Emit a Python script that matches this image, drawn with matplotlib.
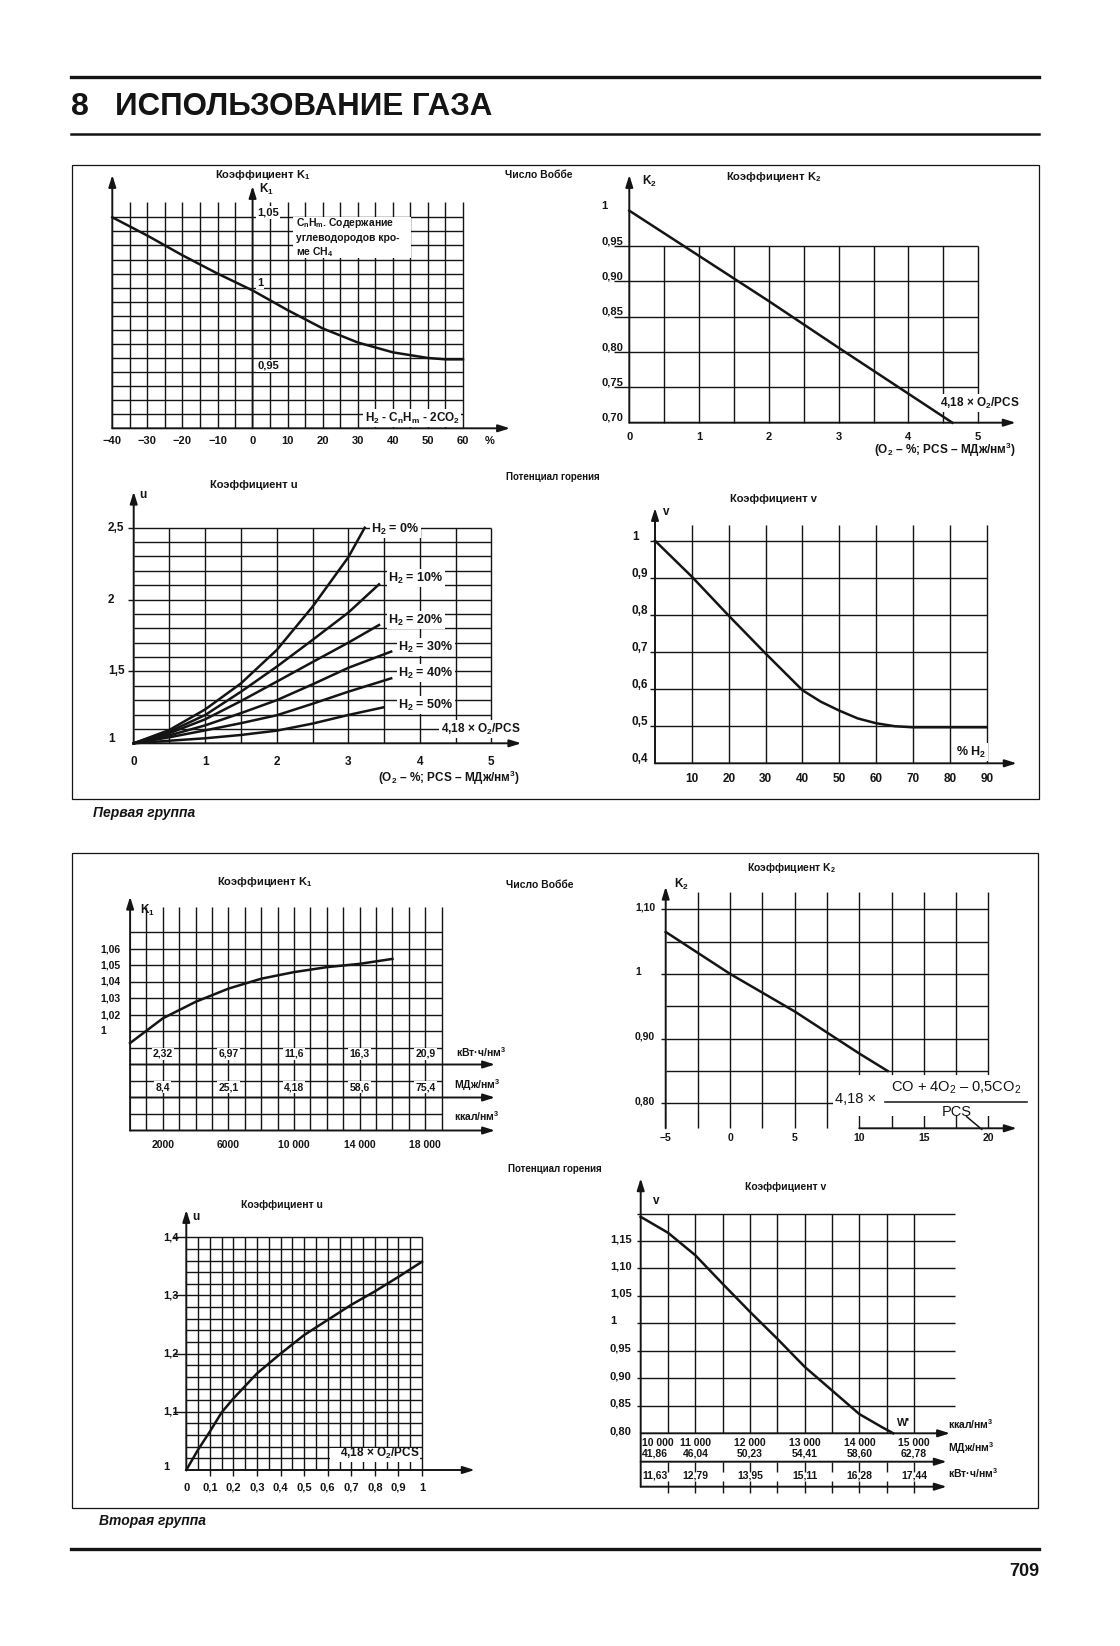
import numpy as np
import matplotlib
matplotlib.use('Agg')
import matplotlib.pyplot as plt
from matplotlib.patches import Rectangle
from matplotlib.transforms import blended_transform_factory, offset_copy

plt.rcParams['font.family'] = ['Liberation Sans', 'DejaVu Sans']
# sub/superscripts through mathtext, set in the same face as the labels
plt.rcParams['mathtext.fontset'] = 'custom'
plt.rcParams['mathtext.rm'] = 'Liberation Sans'
plt.rcParams['mathtext.bf'] = 'Liberation Sans:bold'
plt.rcParams['mathtext.it'] = 'Liberation Sans:italic'
plt.rcParams['mathtext.default'] = 'bf'

# ---------------- values ----------------
# first group: K1 against H2 - CnHm - 2CO2 (%)
k1a_x = [-40, -30, -20, -10, 0, 10, 20, 30, 40, 50, 55, 60]
k1a_y = [1.050, 1.037, 1.023, 1.010, 0.998, 0.984, 0.971, 0.961, 0.954, 0.950, 0.949, 0.949]
k1a_xticks = [-40, -30, -20, -10, 0, 10, 20, 30, 40, 50, 60]
k1a_xlabels = ['−40', '−30', '−20', '−10', '0', '10', '20', '30', '40', '50', '60']
k1a_yticks = [1.05, 1.0, 0.95]
k1a_ylabels = ['1,05', '1', '0,95']

# first group: K2 against 4,18 x O2/PCS
k2a_x = [0, 1, 2, 3, 4, 4.63]
k2a_y = [1.0, 0.936, 0.872, 0.806, 0.741, 0.70]
k2a_xticks = [0, 1, 2, 3, 4, 5]
k2a_yticks = [1.0, 0.95, 0.90, 0.85, 0.80, 0.75, 0.70]
k2a_ylabels = ['1', '0,95', '0,90', '0,85', '0,80', '0,75', '0,70']

# first group: u against 4,18 x O2/PCS, one curve per H2 content
u_h2 = ['H$_2$ = 0%', 'H$_2$ = 10%', 'H$_2$ = 20%', 'H$_2$ = 30%', 'H$_2$ = 40%', 'H$_2$ = 50%']
u_x = [[0, 0.5, 1, 1.5, 2, 2.5, 3, 3.23],
       [0, 0.5, 1, 1.5, 2, 2.5, 3, 3.43],
       [0, 0.5, 1, 1.5, 2, 2.5, 3, 3.43],
       [0, 0.5, 1, 1.5, 2, 2.5, 3, 3.6],
       [0, 0.5, 1, 1.5, 2, 2.5, 3, 3.6],
       [0, 0.5, 1, 1.5, 2, 2.5, 3, 3.49]]
u_y = [[1.0, 1.093, 1.236, 1.417, 1.649, 1.95, 2.294, 2.5],
       [1.0, 1.081, 1.197, 1.359, 1.533, 1.719, 1.909, 2.106],
       [1.0, 1.070, 1.167, 1.294, 1.429, 1.565, 1.700, 1.823],
       [1.0, 1.055, 1.125, 1.210, 1.300, 1.410, 1.525, 1.638],
       [1.0, 1.042, 1.090, 1.140, 1.195, 1.275, 1.359, 1.452],
       [1.0, 1.018, 1.035, 1.058, 1.088, 1.137, 1.197, 1.250]]
ua_xticks = [0, 1, 2, 3, 4, 5]
ua_yticks = [2.5, 2.0, 1.5, 1.0]
ua_ylabels = ['2,5', '2', '1,5', '1']

# first group: v against % H2
va_x = [0, 10, 20, 30, 40, 45, 50, 55, 60, 65, 70, 80, 90]
va_y = [1.0, 0.903, 0.798, 0.696, 0.597, 0.566, 0.542, 0.521, 0.508, 0.500, 0.497, 0.497, 0.497]
va_xticks = [10, 20, 30, 40, 50, 60, 70, 80, 90]
va_yticks = [1.0, 0.9, 0.8, 0.7, 0.6, 0.5, 0.4]
va_ylabels = ['1', '0,9', '0,8', '0,7', '0,6', '0,5', '0,4']

# second group: K1 against heating value (kcal/nm3)
k1b_x = [0, 2000, 4000, 6000, 8000, 10000, 12000, 14000, 16000]
k1b_y = [1.003, 1.018, 1.028, 1.036, 1.042, 1.046, 1.049, 1.051, 1.054]
k1b_ylabpos = [1.06, 1.05, 1.04, 1.03, 1.02, 1.01]
k1b_ylabels = ['1,06', '1,05', '1,04', '1,03', '1,02', '1']
k1b_xticks = [2000, 6000, 10000, 14000, 18000]
k1b_kcal = ['2000', '6000', '10 000', '14 000', '18 000']
k1b_kwh = ['2,32', '6,97', '11,6', '16,3', '20,9']
k1b_mj = ['8,4', '25,1', '4,18', '58,6', '75,4']

# second group: K2 against 4,18 x (CO + 4O2 - 0,5CO2)/PCS
k2b_x = [-5, 0, 5, 10, 12.2]
k2b_y = [1.065, 1.0, 0.942, 0.877, 0.85]
k2b_xticks = [-5, 0, 5, 10, 15, 20]
k2b_xlabels = ['−5', '0', '5', '10', '15', '20']
k2b_yticks = [1.10, 1.0, 0.90, 0.80]
k2b_ylabels = ['1,10', '1', '0,90', '0,80']

# second group: u against 4,18 x O2/PCS
ub_x = [0, 0.05, 0.1, 0.15, 0.2, 0.3, 0.4, 0.5, 0.6, 0.7, 0.8, 0.9, 1.0]
ub_y = [1.0, 1.035, 1.066, 1.099, 1.123, 1.166, 1.2, 1.232, 1.258, 1.284, 1.307, 1.332, 1.358]
ub_xticks = [0, 0.1, 0.2, 0.3, 0.4, 0.5, 0.6, 0.7, 0.8, 0.9, 1.0]
ub_xlabels = ['0', '0,1', '0,2', '0,3', '0,4', '0,5', '0,6', '0,7', '0,8', '0,9', '1']
ub_yticks = [1.4, 1.3, 1.2, 1.1, 1.0]
ub_ylabels = ['1,4', '1,3', '1,2', '1,1', '1']

# second group: v against heating value
vb_x = [10000, 10500, 11000, 11500, 12000, 12500, 13000, 13500, 14000, 14400, 14620]
vb_y = [1.194, 1.165, 1.124, 1.072, 1.021, 0.972, 0.921, 0.878, 0.835, 0.812, 0.800]
vb_xticks = [10000, 11000, 12000, 13000, 14000, 15000]
vb_kcal = ['10 000', '11 000', '12 000', '13 000', '14 000', '15 000']
vb_mj = ['41,86', '46,04', '50,23', '54,41', '58,60', '62,78']
vb_kwh = ['11,63', '12,79', '13,95', '15,11', '16,28', '17,44']
vb_yticks = [1.15, 1.10, 1.05, 1.0, 0.95, 0.90, 0.85, 0.80]
vb_ylabels = ['1,15', '1,10', '1,05', '1', '0,95', '0,90', '0,85', '0,80']

# ---------------- page set-up ----------------
W, H = 1120, 1646
INK = '#141414'
GL = 1.0   # grid lines
AXW = 1.4  # axis lines
CL = 1.8   # curves

fig = plt.figure(figsize=(W / 100, H / 100), dpi=100)
fig.patch.set_facecolor('white')
page = fig.add_axes([0, 0, 1, 1], label='page', zorder=10)
page.set_xlim(0, W)
page.set_ylim(H, 0)
page.axis('off')

count = [0]


def panel(xa, xb, pxa, pxb, ya, yb, pya, pyb):
    # transparent full-page axes whose data -> pixel mapping is fixed by two points per axis
    count[0] += 1
    sx = (pxb - pxa) / (xb - xa)
    sy = (pyb - pya) / (yb - ya)
    ax = fig.add_axes([0, 0, 1, 1], label='chart%d' % count[0])
    ax.set_xlim(xa - pxa / sx, xa + (W - pxa) / sx)
    ax.set_ylim(ya + (H - pya) / sy, ya - pya / sy)
    ax.axis('off')
    return ax


def data_at(ax, px, py):
    return ax.transData.inverted().transform(page.transData.transform((px, py)))


def xdata_ypix(ax):
    return blended_transform_factory(ax.transData, page.transData)


def xpix_ydata(ax):
    return blended_transform_factory(page.transData, ax.transData)


def put(ax, x, y, s, tr=None, size=8, ha='left', va='center', weight='bold', bg=False, dy=0, **kw):
    t = ax.transData if tr is None else tr
    if dy:
        t = offset_copy(t, fig=fig, x=0, y=dy, units='dots')
    box = dict(boxstyle='square,pad=0.12', fc='white', ec='none') if bg else None
    ax.text(x, y, s, transform=t, fontsize=size, ha=ha, va=va, fontweight=weight,
            color=INK, bbox=box, zorder=5, **kw)


AP = dict(arrowstyle='-|>,head_length=0.7,head_width=0.22', color=INK, lw=AXW,
          shrinkA=0, shrinkB=0, mutation_scale=10)


def arrow(ax, start, end, c0=None, c1=None):
    ax.annotate('', xy=end, xycoords=c1 or ax.transData, xytext=start,
                textcoords=c0 or ax.transData, arrowprops=AP, annotation_clip=False)


def white(x, y, w, h):
    page.add_patch(Rectangle((x, y), w, h, fc='white', ec='none', zorder=3))


# ---------------- 1: K1, first group ----------------
ax = panel(-40, 60, 112.3, 463, 1.05, 0.90, 217.3, 428.3)
top = data_at(ax, 0, 201.7)[1]
ax.vlines([v for v in np.arange(-35, 61, 5) if v != 0], 0.90, top, colors=INK, lw=GL)
ax.hlines(np.arange(0.91, 1.0505, 0.01), -40, 60, colors=INK, lw=GL)
arrow(ax, (-40, 0.90), (-40, 175), c1=xdata_ypix(ax))
arrow(ax, (0, 0.90), (0, 186), c1=xdata_ypix(ax))
arrow(ax, (-40, 0.90), (510, 0.90), c1=xpix_ydata(ax))
ax.plot(k1a_x, k1a_y, color=INK, lw=CL, zorder=3)
for v, s in zip(k1a_xticks, k1a_xlabels):
    put(ax, v, 441, s, tr=xdata_ypix(ax), ha='center')
for v, s, d in zip(k1a_yticks, k1a_ylabels, [5, 5, -8]):
    put(ax, 257, v, s, tr=xpix_ydata(ax), dy=d, bg=True)
put(page, 215, 175, 'Коэффициент K$_1$')
put(page, 259, 189, 'K$_1$', size=8.5)
put(page, 485, 441, '%')
white(293, 217, 118, 41)
put(page, 296, 223, 'C$_n$H$_m$. Содержание', size=7.5)
put(page, 296, 238, 'углеводородов кро-', size=7.5)
put(page, 296, 252, 'ме CH$_4$', size=7.5)
put(page, 460, 418, 'H$_2$ - C$_n$H$_m$ - 2CO$_2$', size=8.5, ha='right', bg=True)

# ---------------- 2: K2, first group ----------------
ax = panel(0, 5, 629.3, 978.2, 0.95, 0.70, 246, 422.7)
ax.vlines(np.arange(0.5, 5.01, 0.5), 0.70, 0.95, colors=INK, lw=GL)
ax.hlines(np.arange(0.75, 0.951, 0.05), data_at(ax, 614, 0)[0], 5, colors=INK, lw=GL)
arrow(ax, (0, 0.70), (0, 175), c1=xdata_ypix(ax))
arrow(ax, (0, 0.70), (1015.7, 0.70), c1=xpix_ydata(ax))
ax.plot(k2a_x, k2a_y, color=INK, lw=CL, zorder=3)
for v in k2a_xticks:
    put(ax, v, 437, str(v), tr=xdata_ypix(ax), ha='center')
for v, s in zip(k2a_yticks, k2a_ylabels):
    put(ax, 601, v, s, tr=xpix_ydata(ax), dy=5)
put(page, 505, 175, 'Число Воббе', size=7.5)
put(page, 642, 181, 'K$_2$', size=8.5)
put(page, 726, 177, 'Коэффициент K$_2$')
put(page, 1019, 403, '4,18 × O$_2$/PCS', size=8.5, ha='right', bg=True)
put(page, 1016, 450, '(O$_2$ – %; PCS – МДж/нм$^3$)', size=8.5, ha='right')

# ---------------- 3: u, first group ----------------
ax = panel(0, 5, 133.7, 491.3, 1.0, 2.5, 743.3, 527.7)
ax.vlines(np.arange(0.5, 5.01, 0.5), 1.0, 2.5, colors=INK, lw=GL)
ax.hlines(np.arange(1.1, 2.501, 0.1), 0, 5, colors=INK, lw=GL)
ax.hlines([1.5, 2.0, 2.5], data_at(ax, 128, 0)[0], 0, colors=INK, lw=GL)
arrow(ax, (0, 1.0), (0, 491.7), c1=xdata_ypix(ax))
arrow(ax, (0, 1.0), (521.3, 1.0), c1=xpix_ydata(ax))
for xs, ys in zip(u_x, u_y):
    ax.plot(xs, ys, color=INK, lw=CL, zorder=3)
for v in ua_xticks:
    put(ax, v, 762, str(v), tr=xdata_ypix(ax), ha='center', size=8.5)
for v, s in zip(ua_yticks, ua_ylabels):
    put(ax, 108, v, s, tr=xpix_ydata(ax), size=8.5, dy=4 if v == 1.0 else 0)
put(page, 210, 485, 'Коэффициент u')
put(page, 139, 495, 'u', size=8.5)
put(page, 506, 477, 'Потенциал горения', size=7)
for s, (lx, ly) in zip(u_h2, [(371, 529), (388, 578), (388, 620), (398, 647), (398, 673), (398, 705)]):
    put(page, lx, ly, s, size=9, bg=True)
put(page, 520, 729, '4,18 × O$_2$/PCS', size=8.5, ha='right', bg=True)
put(page, 520, 778, '(O$_2$ – %; PCS – МДж/нм$^3$)', size=8.5, ha='right')

# ---------------- 4: v, first group ----------------
ax = panel(0, 90, 655, 986.7, 1.0, 0.4, 540.7, 763.3)
top = data_at(ax, 0, 525)[1]
ax.vlines(va_xticks, 0.4, top, colors=INK, lw=GL)
ax.hlines(np.arange(0.5, 1.01, 0.1), data_at(ax, 650, 0)[0], 90, colors=INK, lw=GL)
arrow(ax, (0, 0.4), (0, 508), c1=xdata_ypix(ax))
arrow(ax, (0, 0.4), (1016.7, 0.4), c1=xpix_ydata(ax))
ax.plot(va_x, va_y, color=INK, lw=CL, zorder=3)
for v in va_xticks:
    put(ax, v, 779, str(v), tr=xdata_ypix(ax), ha='center', size=8.5)
for v, s in zip(va_yticks, va_ylabels):
    put(ax, 632, v, s, tr=xpix_ydata(ax), size=8.5, dy=4)
put(page, 730, 499, 'Коэффициент v')
put(page, 663, 512, 'v', size=8.5)
put(page, 986, 752, '% H$_2$', size=9, ha='right', bg=True)

# ---------------- 5: K1, second group ----------------
ax = panel(0, 19000, 130.1, 441.6, 1.06, 1.00, 949, 1048)
top = data_at(ax, 0, 906.7)[1]
ax.vlines(np.arange(1000, 19001, 1000), 0.95, top, colors=INK, lw=GL)
ax.hlines([0.96, 0.98] + list(np.arange(1.0, 1.0705, 0.01)), 0, 19000, colors=INK, lw=GL)
for lvl in [0.99, 0.97, 0.95]:
    arrow(ax, (0, lvl), (495, lvl), c1=xpix_ydata(ax))
arrow(ax, (0, 0.95), (0, 896.7), c1=xdata_ypix(ax))
ax.plot(k1b_x, k1b_y, color=INK, lw=CL, zorder=3)
for v, s in zip(k1b_ylabpos, k1b_ylabels):
    put(ax, 100, v, s, tr=xpix_ydata(ax), size=7.5)
for v, a, b, c in zip(k1b_xticks, k1b_kwh, k1b_mj, k1b_kcal):
    put(ax, v, 1054, a, tr=xdata_ypix(ax), ha='center', size=7.5, bg=True)
    put(ax, v, 1087, b, tr=xdata_ypix(ax), ha='center', size=7.5, bg=True)
    put(ax, v, 1145, c, tr=xdata_ypix(ax), ha='center', size=7.5)
put(page, 456, 1052, 'кВт·ч/нм$^3$', size=7.5)
put(page, 454, 1085, 'МДж/нм$^3$', size=7.5)
put(page, 454, 1116, 'ккал/нм$^3$', size=7.5)
put(page, 217, 882, 'Коэффициент K$_1$')
put(page, 140, 910, 'K$_1$', size=8.5)
put(page, 506, 885, 'Число Воббе', size=7.5)

# ---------------- 6: K2, second group ----------------
ax = panel(-5, 20, 665.7, 988.3, 1.10, 0.80, 909.3, 1103.3)
ybot = data_at(ax, 0, 1128.3)[1]
top = data_at(ax, 0, 891.7)[1]
ax.vlines(np.arange(-2.5, 20.01, 2.5), ybot, top, colors=INK, lw=GL)
ax.hlines([0.85, 0.90, 0.95, 1.0, 1.05, 1.10], -5, 20, colors=INK, lw=GL)
ax.hlines(k2b_yticks, data_at(ax, 661, 0)[0], -5, colors=INK, lw=GL)
ax.hlines(0.80, -5, data_at(ax, 833, 0)[0], colors=INK, lw=GL)
arrow(ax, (10, ybot), (1016.7, ybot), c1=xpix_ydata(ax))
arrow(ax, (-5, ybot), (-5, 886.7), c1=xdata_ypix(ax))
ax.plot(k2b_x, k2b_y, color=INK, lw=CL, zorder=3)
for v, s in zip(k2b_xticks, k2b_xlabels):
    put(ax, v, 1138, s, tr=xdata_ypix(ax), ha='center', size=7.5)
for v, s in zip(k2b_yticks, k2b_ylabels):
    put(ax, 635, v, s, tr=xpix_ydata(ax), size=7.5, dy=2)
white(833, 1075, 197, 41)
put(page, 835, 1099, '4,18 ×', size=10.5, weight='normal')
put(page, 956, 1088, r'CO + 4O$_\mathrm{2}$ – 0,5CO$_\mathrm{2}$', size=10.5, weight='normal', ha='center')
page.plot([885, 1027], [1101.7, 1101.7], color=INK, lw=1.1, zorder=4)
put(page, 957, 1112, 'PCS', size=10.5, weight='normal', ha='center')
page.plot([966.7, 981.7], [1116.7, 1129.3], color=INK, lw=1.1, zorder=4)
put(page, 747, 868, 'Коэффициент K$_2$', size=7.5)
put(page, 674, 884, 'K$_2$', size=8.5)

# ---------------- 7: u, second group ----------------
ax = panel(0, 1, 186.3, 422, 1.0, 1.4, 1470, 1237.3)
ax.vlines(np.arange(0.05, 1.001, 0.05), 1.0, 1.4, colors=INK, lw=GL)
ax.vlines(np.arange(0.1, 1.001, 0.1), data_at(ax, 0, 1476)[1], 1.0, colors=INK, lw=GL)
ax.hlines(np.arange(1.02, 1.401, 0.02), 0, 1, colors=INK, lw=GL)
ax.hlines([1.1, 1.2, 1.3, 1.4], data_at(ax, 173, 0)[0], 0, colors=INK, lw=GL)
arrow(ax, (0, 1.0), (0, 1210), c1=xdata_ypix(ax))
arrow(ax, (0, 1.0), (474.7, 1.0), c1=xpix_ydata(ax))
ax.plot(ub_x, ub_y, color=INK, lw=CL, zorder=3)
for v, s in zip(ub_xticks, ub_xlabels):
    put(ax, v, 1488, s, tr=xdata_ypix(ax), ha='center', size=8)
for v, s in zip(ub_yticks, ub_ylabels):
    put(ax, 163, v, s, tr=xpix_ydata(ax), size=8, dy=3 if v == 1.0 else 0)
white(329.7, 1447.5, 90, 14.5)
put(page, 339.7, 1453.5, '4,18 × O$_2$/PCS', size=8.5)
put(page, 241, 1205, 'Коэффициент u', size=7.5)
put(page, 192, 1217, 'u', size=8.5)
put(page, 508, 1169, 'Потенциал горения', size=7)

# ---------------- 8: v, second group ----------------
ax = panel(10000, 15000, 640.7, 914, 1.15, 0.80, 1241, 1433.3)
ax.vlines(np.arange(10500, 15001, 500), 0.80, 1.20, colors=INK, lw=GL)
ax.hlines(np.arange(0.85, 1.2001, 0.05), data_at(ax, 636.7, 0)[0], data_at(ax, 955, 0)[0], colors=INK, lw=GL)
arrow(ax, (10000, data_at(ax, 0, 1486.7)[1]), (10000, 1178.3), c1=xdata_ypix(ax))
arrow(ax, (10000, 0.80), (950, 0.80), c1=xpix_ydata(ax))
for lvl in [1461.7, 1486.7]:
    arrow(ax, (10000, lvl), (946.7, lvl), c0=xdata_ypix(ax), c1=page.transData)
ax.vlines(np.arange(10500, 15001, 500), 1461.7, 1471.7, colors=INK, lw=GL, transform=xdata_ypix(ax))
ax.vlines(np.arange(10500, 15001, 500), 1481, 1493, colors=INK, lw=GL, transform=xdata_ypix(ax))
ax.plot(vb_x, vb_y, color=INK, lw=CL, zorder=3)
for i, (v, a, b, c) in enumerate(zip(vb_xticks, vb_kcal, vb_mj, vb_kwh)):
    ha = 'left' if i == 0 else 'center'
    xx = 10030 if i == 0 else v
    put(ax, xx, 1442.5, a, tr=xdata_ypix(ax), ha=ha, size=7.5)
    put(ax, xx, 1453.5, b, tr=xdata_ypix(ax), ha=ha, size=7.5)
    put(ax, xx, 1476, c, tr=xdata_ypix(ax), ha=ha, size=7.5)
for v, s in zip(vb_yticks, vb_ylabels):
    put(ax, 610, v, s, tr=xpix_ydata(ax), size=8, dy=2)
put(page, 948, 1424, 'ккал/нм$^3$', size=7.5)
put(page, 948, 1448, 'МДж/нм$^3$', size=7.5)
put(page, 948, 1473, 'кВт·ч/нм$^3$', size=7.5)
put(page, 897, 1423, "W'", size=8)
put(page, 745, 1187, 'Коэффициент v', size=7.5)
put(page, 653, 1201, 'v', size=8.5)

# ---------------- page furniture ----------------
page.plot([71, 1039], [76.6, 76.6], color=INK, lw=2.4)
page.plot([71, 1039], [134.4, 134.4], color=INK, lw=1.8)
page.plot([71, 1039], [1549, 1549], color=INK, lw=2.4)
put(page, 71, 107, '8', size=23)
put(page, 115, 107, 'ИСПОЛЬЗОВАНИЕ ГАЗА', size=22.5)
page.add_patch(Rectangle((72, 165), 967, 634, fc='none', ec=INK, lw=0.9))
page.add_patch(Rectangle((72, 853), 966, 655, fc='none', ec=INK, lw=0.9))
put(page, 93, 813, 'Первая группа', size=10, style='italic')
put(page, 99, 1521, 'Вторая группа', size=10, style='italic')
put(page, 1039, 1571, '709', size=13, ha='right')

fig.savefig('out.png', dpi=100, facecolor='white')
